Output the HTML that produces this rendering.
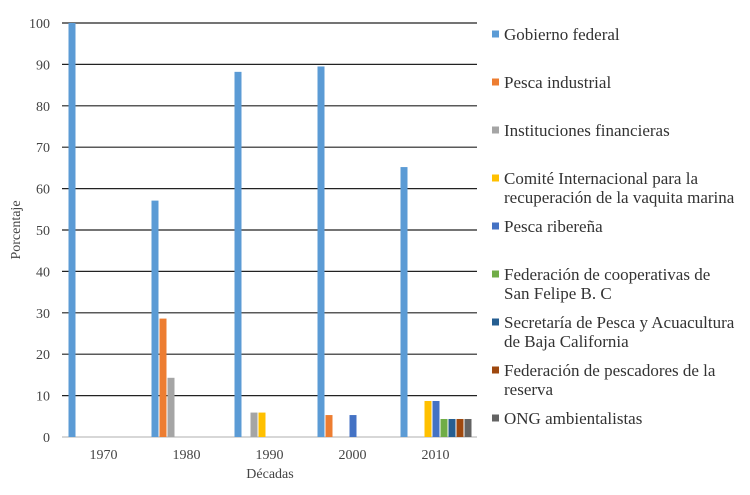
<!DOCTYPE html>
<html><head><meta charset="utf-8"><style>
body{margin:0;background:#fff;}
svg{display:block;font-family:"Liberation Serif",serif;}
</style></head><body>
<svg id="chart" width="750" height="495"></svg>
<script>
const categories=["1970","1980","1990","2000","2010"];
const seriesNames=[["Gobierno federal"],["Pesca industrial"],["Instituciones financieras"],["Comité Internacional para la","recuperación de la vaquita marina"],["Pesca ribereña"],["Federación de cooperativas de","San Felipe B. C"],["Secretaría de Pesca y Acuacultura","de Baja California"],["Federación de pescadores de la","reserva"],["ONG ambientalistas"]];
const seriesColors=["#5b9bd5","#ed7d31","#a5a5a5","#ffc000","#4472c4","#70ad47","#255e91","#9e480e","#636363"];
const gobierno=[100,57.1,88.2,89.5,65.2];
const pescaIndustrial=[0,28.6,0,5.3,0];
const instituciones=[0,14.3,5.9,0,0];
const comite=[0,0,5.9,0,8.7];
const ribereña=[0,0,0,5.3,8.7];
const federacionCoop=[0,0,0,0,4.35];
const secretaria=[0,0,0,0,4.35];
const federacionPesc=[0,0,0,0,4.35];
const ong=[0,0,0,0,4.35];
const seriesValues=[gobierno,pescaIndustrial,instituciones,comite,ribereña,federacionCoop,secretaria,federacionPesc,ong];
const yTicks=[0,10,20,30,40,50,60,70,80,90,100];

const NS="http://www.w3.org/2000/svg";
const svg=document.getElementById('chart');
const x0=62,x1=477,yTop=23,yBot=437;
const catW=(x1-x0)/categories.length;
const slot=8,barW=7,groupOff=6.5;
function y(v){return yBot-(v/100)*(yBot-yTop);}
function xBar(ci,si){return x0+ci*catW+groupOff+si*slot;}
function mk(tag,attrs){const e=document.createElementNS(NS,tag);for(const k in attrs)e.setAttribute(k,attrs[k]);svg.appendChild(e);return e;}

yTicks.forEach(t=>{
  const l=mk('line',{x1:x0,x2:x1,y1:y(t),y2:y(t),stroke:t===0?'#bfbfbf':'#222','stroke-width':1.2});
  
  
  const tx=mk('text',{x:50,y:y(t)+5,'text-anchor':'end','font-size':14,fill:'#444'});
  tx.textContent=t;
  
  
});
categories.forEach((c,ci)=>{
  const tx=mk('text',{x:x0+ci*catW+catW/2,y:459,'text-anchor':'middle','font-size':14,fill:'#444'});
  tx.textContent=c;
  
  
});
seriesValues.forEach((vals,si)=>{
  vals.forEach((v,ci)=>{
    if(v<=0)return;
    const r=mk('rect',{x:xBar(ci,si),y:y(v),width:barW,height:yBot-y(v),fill:seriesColors[si]});
    
    
  });
});
const yt=mk('text',{x:20,y:230,'text-anchor':'middle','font-size':14,fill:'#444',transform:'rotate(-90 20 230)'});
yt.textContent='Porcentaje';


const xt=mk('text',{x:270,y:478,'text-anchor':'middle','font-size':14,fill:'#444'});
xt.textContent='Décadas';



seriesNames.forEach((lines,si)=>{
  const ly=34+si*48;
  const g=document.createElementNS(NS,'g');svg.appendChild(g);
  
  
  const r=document.createElementNS(NS,'rect');
  r.setAttribute('x',492);r.setAttribute('y',ly-3.5);r.setAttribute('width',7);r.setAttribute('height',7);r.setAttribute('fill',seriesColors[si]);
  g.appendChild(r);
  lines.forEach((ln,li)=>{
    const t=document.createElementNS(NS,'text');
    t.setAttribute('x',504);t.setAttribute('y',ly+6+li*19);t.setAttribute('font-size',17);t.setAttribute('fill','#333');
    t.textContent=ln;g.appendChild(t);
  });
});
</script>
</body></html>
